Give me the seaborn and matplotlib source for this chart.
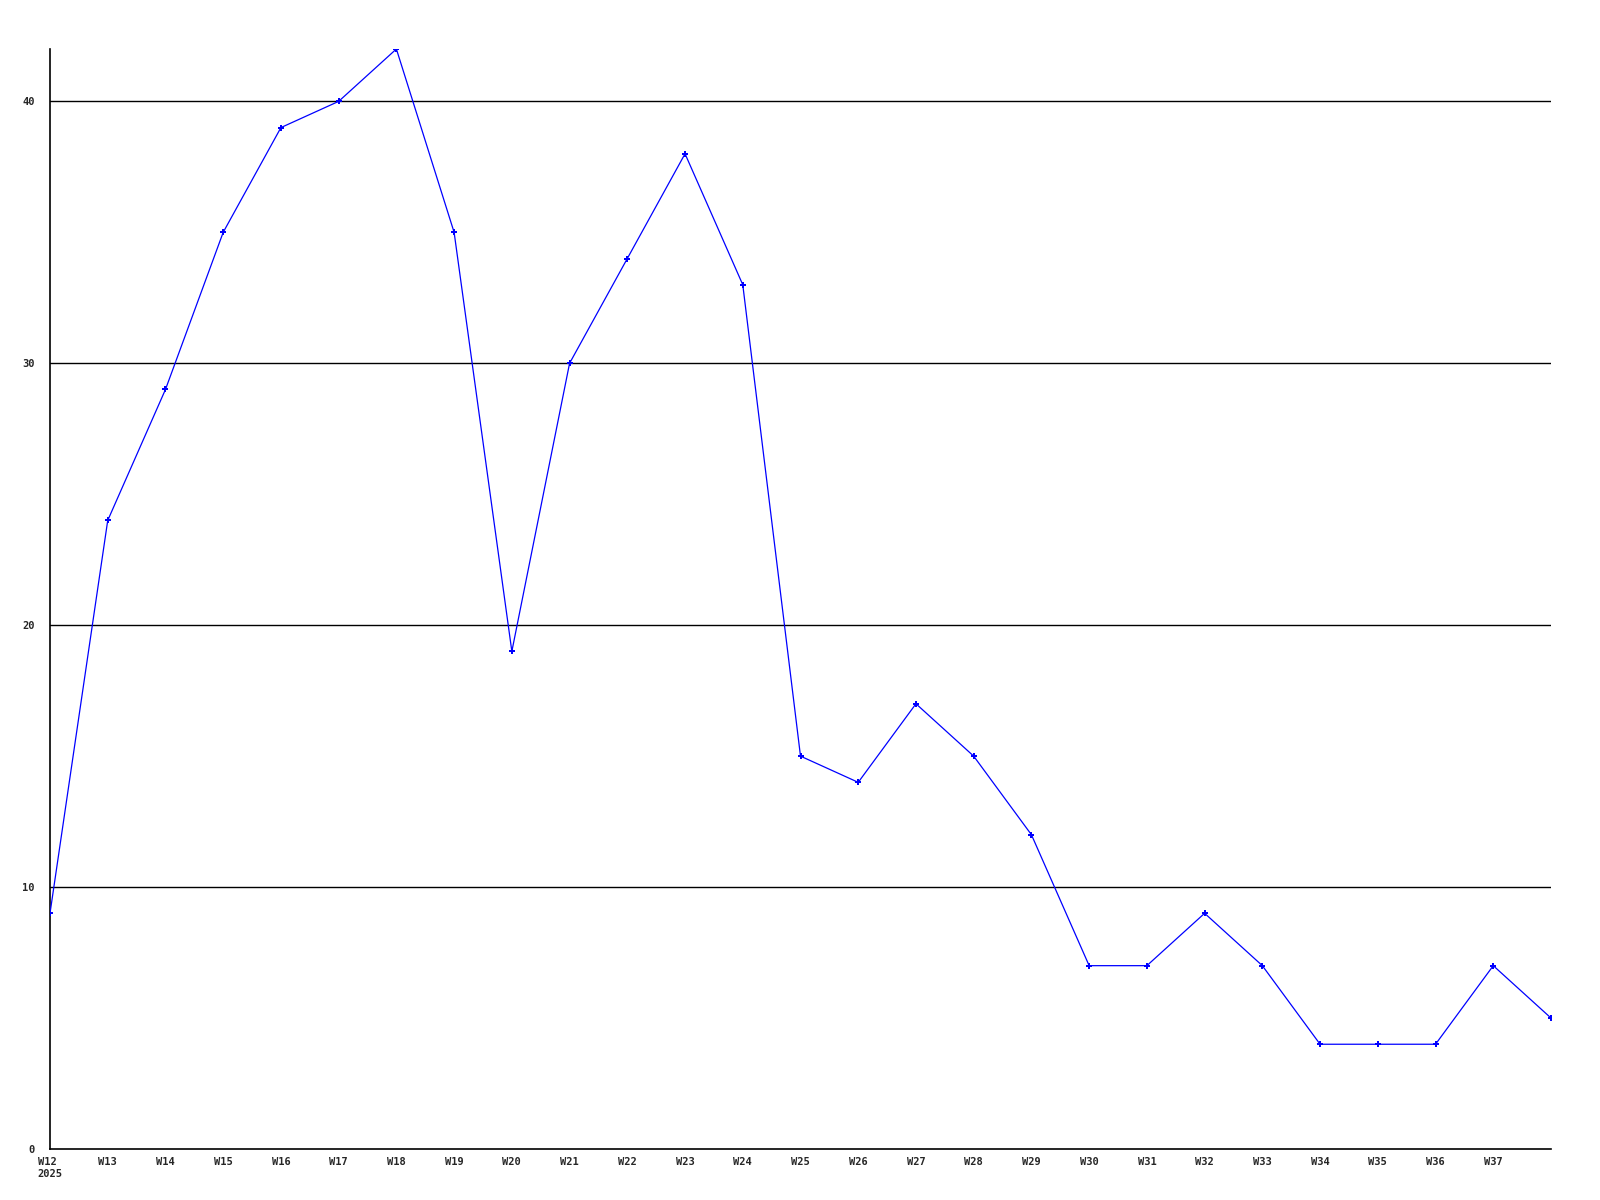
import numpy as np
import pandas as pd
import seaborn as sns
from matplotlib import pyplot as plt

# weekly counts, W12 2025 .. W38
weeks = ['W12', 'W13', 'W14', 'W15', 'W16', 'W17', 'W18', 'W19', 'W20',
         'W21', 'W22', 'W23', 'W24', 'W25', 'W26', 'W27', 'W28', 'W29',
         'W30', 'W31', 'W32', 'W33', 'W34', 'W35', 'W36', 'W37', 'W38']
counts = [9, 24, 29, 35, 39, 40, 42, 35, 19,
          30, 34, 38, 33, 15, 14, 17, 15, 12,
          7, 7, 9, 7, 4, 4, 4, 7, 5]
y_ticks = [0, 10, 20, 30, 40]

data = pd.DataFrame({'week': weeks, 'count': counts})
data['pos'] = np.arange(len(data))

sns.set_style('white')
plt.rcParams['font.family'] = ['DejaVu Sans Mono']

fig = plt.figure(figsize=(16, 12), dpi=100)
ax = fig.add_axes([50 / 1600, 51 / 1200, 1501 / 1600, 1100 / 1200])

# horizontal grid lines
for v in y_ticks[1:]:
    ax.axhline(v, color='black', linewidth=1, zorder=1)

sns.lineplot(x='pos', y='count', data=data, ax=ax,
             color='blue', linewidth=0.9, marker='P', markersize=4,
             markeredgewidth=0, zorder=3)

ax.set_xlim(0, len(weeks) - 1)
ax.set_ylim(0, 42)

# labels for every week except the last one
xlabels = list(weeks[:-1])
xlabels[0] = 'W12\n2025'
ax.set_xticks(data['pos'][:-1])
ax.set_xticklabels(xlabels, fontsize=7.5, fontweight='bold',
                   va='top', ha='center', linespacing=1.2)
ax.get_xticklabels()[0].set_multialignment('left')
ax.set_yticks(y_ticks)
ax.set_yticklabels([str(v) for v in y_ticks], fontsize=7.5, fontweight='bold')
ax.tick_params(axis='x', length=0, pad=6)
ax.tick_params(axis='y', length=0, pad=11)

ax.set_xlabel('')
ax.set_ylabel('')

for side in ['top', 'right']:
    ax.spines[side].set_visible(False)
for side in ['left', 'bottom']:
    ax.spines[side].set_color('black')
    ax.spines[side].set_linewidth(1.2)

plt.savefig('out.png', dpi=100)
